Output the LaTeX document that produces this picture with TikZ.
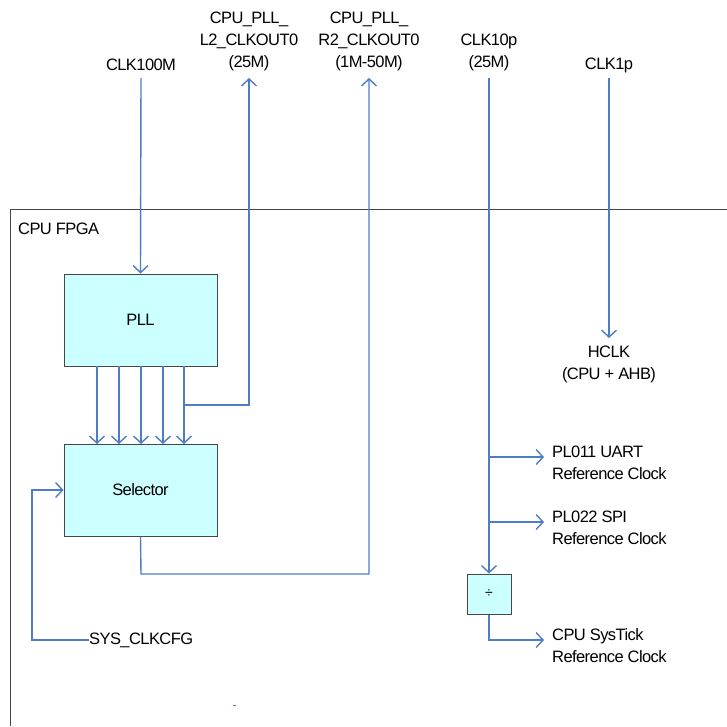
\documentclass[tikz,border=0pt]{standalone}
\usepackage{fontspec}
\setmainfont{Liberation Sans}[LetterSpace=-3.5]
\usetikzlibrary{arrows.meta}
\definecolor{wire}{RGB}{79,125,196}
\definecolor{boxfill}{RGB}{204,255,255}
\definecolor{boxline}{RGB}{70,70,70}
\tikzset{
  wirestyle/.style={draw=wire,line width=1.4pt},
  arr/.style={wirestyle,-{Straight Barb[length=7pt,width=15pt]}},
  blockbox/.style={draw=boxline,fill=boxfill,line width=1pt,minimum width=153pt,minimum height=92pt,inner sep=0pt,font=\fontsize{16.5}{22}\selectfont},
  lbl/.style={inner sep=0pt,align=center,font=\fontsize{16.5}{22}\selectfont},
  lbll/.style={inner sep=0pt,align=left,anchor=west,font=\fontsize{16.5}{22}\selectfont},
}
\begin{document}
\begin{tikzpicture}[x=1pt,y=-1pt]
\useasboundingbox (0,0) rectangle (727,726);
% outer FPGA box (open to right and bottom)
\draw[boxline,line width=1pt] (10,726) -- (10,209.5) -- (727,209.5);
\node[lbll] (fpga) at (18,229) {CPU FPGA};

% top labels
\node[lbl] (c100) at (141,65) {CLK100M};
\node[lbl] (l2) at (249,41) {CPU\_PLL\_\\L2\_CLKOUT0\\(25M)};
\node[lbl] (r2) at (369,41) {CPU\_PLL\_\\R2\_CLKOUT0\\(1M-50M)};
\node[lbl] (c10) at (489,52) {CLK10p\\(25M)};
\node[lbl] (c1) at (609,65) {CLK1p};

% blocks
\node[blockbox] (pll) at (140.5,320) {PLL};
\node[blockbox] (sel) at (140.5,490) {Selector};
\node[draw=boxline,fill=boxfill,line width=1pt,minimum width=44pt,minimum height=40pt,inner sep=0pt] (div) at (489,594) {\fontsize{14}{16}\selectfont ÷};

% right labels
\node[lbl] (hclk) at (609,364) {HCLK\\(CPU + AHB)};
\node[lbll] (uart) at (552,463) {PL011 UART\\Reference Clock};
\node[lbll] (spi) at (552,528) {PL022 SPI\\Reference Clock};
\node[lbll] (tick) at (552,646) {CPU SysTick\\Reference Clock};
\node[lbll] (cfg) at (89,640) {SYS\_CLKCFG};

% coordinates
\coordinate (c100s) at (141,78);
\coordinate (l2t) at (249,78);
\coordinate (r2t) at (369,78);
\coordinate (c10s) at (489,78);
\coordinate (c1s) at (609,78);

% CLK100M -> PLL
\draw[arr] (c100s) -- (pll.north);
% PLL -> Selector (5 lines)
\foreach \x in {97,119,141,163,184} {
  \draw[arr] (\x,366) -- (\x,444);
}
% L2 out
\draw[wirestyle] (184,405) -- (249,405);
\draw[arr] (249,405.7) -- (l2t);
% Selector -> R2
\draw[arr] (sel.south) -- (141,574) -- (369,574) -- (r2t);
% SYS_CLKCFG -> Selector
\draw[arr] (cfg.west) -- (32,640) -- (32,490) -- (sel.west);
% CLK1p -> HCLK
\draw[arr] (c1s) -- (609,338);
% CLK10p
\draw[arr] (c10s) -- (div.north);
\coordinate (b1) at (489,457);
\coordinate (b2) at (489,522);
\draw[arr] (b1) -- (544,457);
\draw[arr] (b2) -- (544,522);
\draw[arr] (div.south) -- (489,640) -- (544,640);
% stray mark
\draw[wire,line width=0.8pt] (233,705) -- (235.5,705);
\end{tikzpicture}
\end{document}
